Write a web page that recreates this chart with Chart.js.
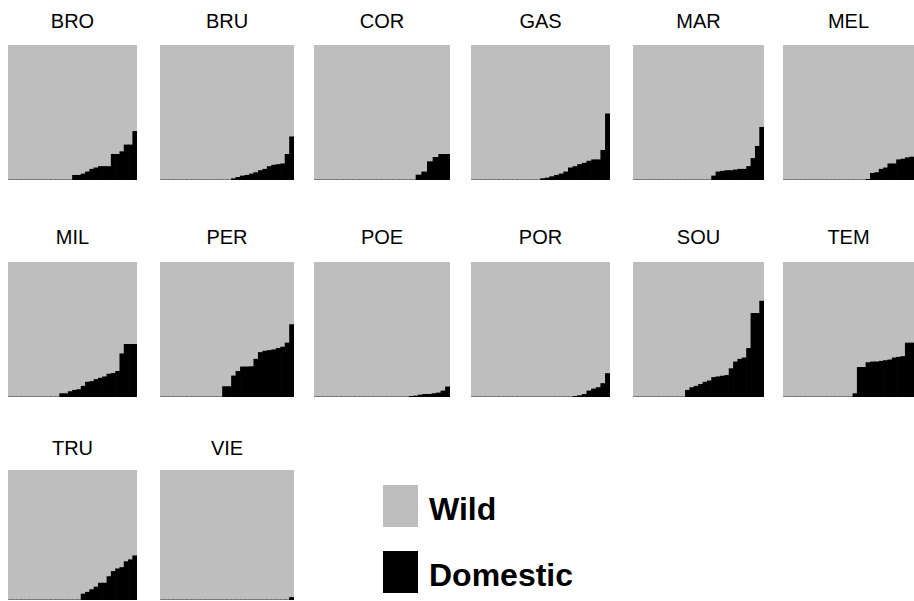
<!DOCTYPE html>
<html>
<head>
<meta charset="utf-8">
<script src="https://cdn.jsdelivr.net/npm/chart.js@4.4.1/dist/chart.umd.min.js"></script>
<style>
  html, body { margin: 0; padding: 0; }
  body { width: 914px; height: 601px; overflow: hidden; background: #ffffff; position: relative;
         font-family: "Liberation Sans", Arial, Helvetica, sans-serif; }
  .panel { position: absolute; background: #bebebe; }
  .panel canvas { display: block; }
  .ttl { position: absolute; font-size: 20px; line-height: 20px; text-align: center; color: #000; white-space: nowrap; }
  .key { position: absolute; width: 35px; height: 42px; }
  .keytxt { position: absolute; font-size: 32px; line-height: 32px; font-weight: bold; color: #000; white-space: nowrap; }
</style>
</head>
<body>
<script>
// Population codes, in panel order (left to right, top to bottom)
const populations = ['BRO', 'BRU', 'COR', 'GAS', 'MAR', 'MEL', 'MIL', 'PER', 'POE', 'POR', 'SOU', 'TEM', 'TRU', 'VIE'];

// Domestic ancestry proportion of each individual, sorted ascending
const broDomestic = [0,0,0,0,0,0,0,0,0,0,0,0,0,0,0, .035,.035,.045,.06,.08,.09,.10,.10,.10,.19,.19,.21,.26,.26,.36];
const bruDomestic = [0,0,0,0,0,0,0,0,0,0,0,0,0,0,0,0, .01,.02,.03,.035,.045,.055,.07,.08,.10,.11,.115,.12,.19,.32];
const corDomestic = [0,0,0,0,0,0,0,0,0,0,0,0,0,0,0,0,0,0, .037,.06,.136,.168,.19,.19];
const gasDomestic = [0,0,0,0,0,0,0,0,0,0,0,0,0,0,0, .01,.015,.025,.035,.045,.06,.09,.10,.115,.125,.14,.15,.15,.22,.49];
const marDomestic = [0,0,0,0,0,0,0,0,0,0,0,0,0,0,0,0,0,0, .03,.06,.065,.07,.07,.075,.08,.08,.10,.16,.25,.39];
const melDomestic = [0,0,0,0,0,0,0,0,0,0,0,0,0,0,0,0,0,0,0, .005,.05,.055,.08,.09,.12,.12,.15,.155,.165,.17];
const milDomestic = [0,0,0,0,0,0,0,0,0,0,0,0, .025,.025,.04,.05,.055,.08,.11,.115,.13,.14,.15,.17,.175,.19,.32,.39,.39,.39];
const perDomestic = [0,0,0,0,0,0,0,0,0,0,0,0,0,0, .077,.077,.156,.19,.223,.223,.225,.28,.33,.34,.345,.35,.36,.37,.40,.536];
const poeDomestic = [0,0,0,0,0,0,0,0,0,0,0,0,0,0,0,0,0,0,0,0,0, .005,.008,.015,.02,.02,.025,.03,.045,.075];
const porDomestic = [0,0,0,0,0,0,0,0,0,0,0,0,0,0,0,0,0,0,0,0,0,0, .005,.01,.02,.045,.06,.07,.10,.174];
const souDomestic = [0,0,0,0,0,0,0,0,0,0,0,0, .05,.07,.08,.094,.11,.12,.145,.15,.155,.16,.21,.26,.28,.29,.36,.62,.62,.71];
const temDomestic = [0,0,0,0,0,0,0,0,0,0,0,0,0,0,0,0, .025,.22,.22,.255,.26,.26,.265,.27,.275,.29,.295,.30,.40,.40];
const truDomestic = [0,0,0,0,0,0,0,0,0,0,0,0,0,0,0,0,0, .046,.06,.08,.10,.13,.13,.18,.22,.24,.25,.295,.31,.34];
const vieDomestic = [0,0,0,0,0,0,0,0,0,0,0,0,0,0,0,0,0,0,0,0,0,0,0,0,0,0,0,0,0, .02];

// Legend entries
const seriesNames = ['Wild', 'Domestic'];
const seriesColors = { Wild: '#bebebe', Domestic: '#000000' };

const domesticByPop = {
  BRO: broDomestic, BRU: bruDomestic, COR: corDomestic, GAS: gasDomestic, MAR: marDomestic, MEL: melDomestic,
  MIL: milDomestic, PER: perDomestic, POE: poeDomestic, POR: porDomestic, SOU: souDomestic, TEM: temDomestic,
  TRU: truDomestic, VIE: vieDomestic
};

// Grid geometry
const colLeft  = [8, 160, 314, 471, 633, 783];
const colWidth = [129, 134, 136, 139, 131, 131];
const rowTop    = [45, 262, 470];
const rowHeight = [135, 135, 130];
const titleTop  = [11, 227, 438];

populations.forEach((pop, i) => {
  const r = Math.floor(i / 6), c = i % 6;

  const t = document.createElement('div');
  t.className = 'ttl';
  t.textContent = pop;
  t.style.left = colLeft[c] + 'px';
  t.style.width = colWidth[c] + 'px';
  t.style.top = titleTop[r] + 'px';
  document.body.appendChild(t);

  const box = document.createElement('div');
  box.className = 'panel';
  box.style.left = colLeft[c] + 'px';
  box.style.top = rowTop[r] + 'px';
  box.style.width = colWidth[c] + 'px';
  box.style.height = rowHeight[r] + 'px';
  const cv = document.createElement('canvas');
  box.appendChild(cv);
  document.body.appendChild(box);

  const dom = domesticByPop[pop];
  const wild = dom.map(v => 1 - v);   // the two ancestry shares sum to one
  const labels = dom.map((_, k) => pop + '-' + (k + 1));

  new Chart(cv, {
    type: 'bar',
    data: {
      labels,
      datasets: [
        { label: 'Domestic', data: dom,  backgroundColor: seriesColors.Domestic, borderWidth: 0, borderSkipped: false },
        { label: 'Wild',     data: wild, backgroundColor: seriesColors.Wild,     borderWidth: 0, borderSkipped: false }
      ]
    },
    options: {
      responsive: true,
      maintainAspectRatio: false,
      animation: false,
      layout: { padding: 0 },
      datasets: { bar: { barPercentage: 1.0, categoryPercentage: 1.0 } },
      plugins: { legend: { display: false }, tooltip: { enabled: false }, title: { display: false } },
      scales: {
        x: { stacked: true, display: false, grid: { display: false } },
        y: { stacked: true, display: false, min: 0, max: 1, grid: { display: false } }
      }
    }
  });
});

// Legend
const keyTops = [485, 551];
const keyTextTops = [493, 559];
seriesNames.forEach((name, k) => {
  const sw = document.createElement('div');
  sw.className = 'key';
  sw.style.left = '383px';
  sw.style.top = keyTops[k] + 'px';
  sw.style.background = seriesColors[name];
  document.body.appendChild(sw);
  const tx = document.createElement('div');
  tx.className = 'keytxt';
  tx.style.left = '429px';
  tx.style.top = keyTextTops[k] + 'px';
  tx.textContent = name;
  document.body.appendChild(tx);
});
</script>
</body>
</html>
